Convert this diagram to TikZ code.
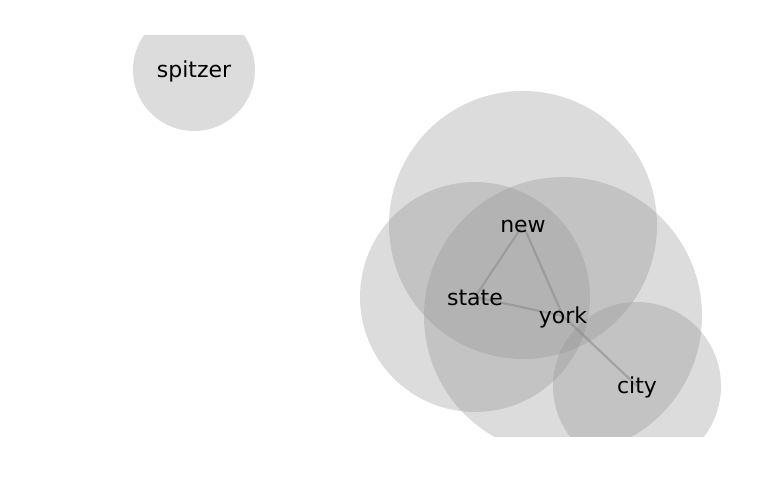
\documentclass[tikz,border=0pt]{standalone}
\usepackage{fontspec}
\setmainfont{DejaVu Sans}
\definecolor{blobc}{RGB}{145,145,145}
\definecolor{edgec}{RGB}{140,140,140}
\begin{document}
\begin{tikzpicture}[x=1pt,y=-1pt,
  blob/.style={fill=blobc, fill opacity=0.32},
  link/.style={draw=edgec, draw opacity=0.6, line width=2.2pt},
  word/.style={inner sep=0pt, yshift=-1pt, font=\fontsize{22}{26}\selectfont, text=black}]
\useasboundingbox (0,0) rectangle (768,500);
\coordinate (cspitzer) at (194,70);
\coordinate (cnew) at (523,225);
\coordinate (cstate) at (475,297);
\coordinate (cyork) at (563,316);
\coordinate (ccity) at (637,386);
\begin{scope}
\clip (0,36) rectangle (768,436);
\fill[blob] (cspitzer) circle[radius=61];
\fill[blob] (cnew) circle[radius=134];
\fill[blob] (cstate) circle[radius=115];
\fill[blob] (cyork) circle[radius=139];
\fill[blob] (ccity) circle[radius=84];
\draw[link] (cnew) -- (cstate);
\draw[link] (cnew) -- (cyork);
\draw[link] (cstate) -- (cyork);
\draw[link] (cyork) -- (ccity);
\end{scope}
\node[word] (spitzer) at (cspitzer) {spitzer};
\node[word] (new) at (cnew) {new};
\node[word] (state) at (cstate) {state};
\node[word] (york) at (cyork) {york};
\node[word] (city) at (ccity) {city};
\end{tikzpicture}
\end{document}
